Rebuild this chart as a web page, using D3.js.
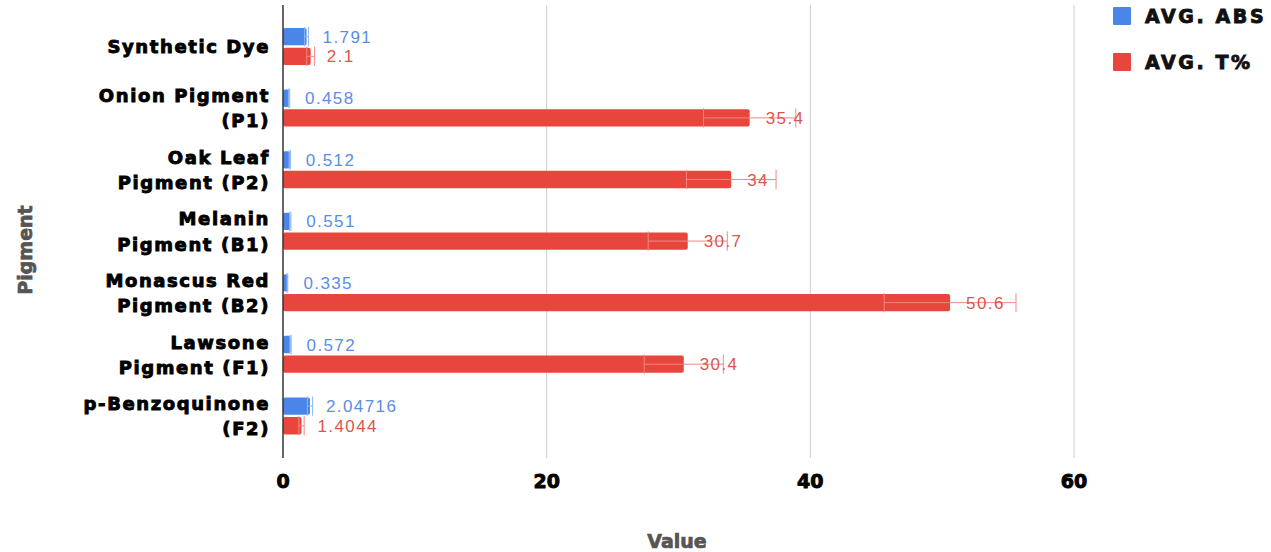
<!DOCTYPE html>
<html>
<head>
<meta charset="utf-8">
<script src="https://cdn.jsdelivr.net/npm/d3@7"></script>
<style>
  body { margin: 0; background: #fff; }
  svg { display: block; }
</style>
</head>
<body>
<svg width="1271" height="552"></svg>
<script>
var categories = ['Synthetic Dye', 'Onion Pigment (P1)', 'Oak Leaf Pigment (P2)', 'Melanin Pigment (B1)',
                  'Monascus Red Pigment (B2)', 'Lawsone Pigment (F1)', 'p-Benzoquinone (F2)'];
var catLines = [['Synthetic Dye'], ['Onion Pigment', '(P1)'], ['Oak Leaf', 'Pigment (P2)'], ['Melanin', 'Pigment (B1)'],
                ['Monascus Red', 'Pigment (B2)'], ['Lawsone', 'Pigment (F1)'], ['p-Benzoquinone', '(F2)']];
var absVals = [1.791, 0.458, 0.512, 0.551, 0.335, 0.572, 2.04716];
var absErr  = [0.15, 0.05, 0.05, 0.05, 0.03, 0.05, 0.2];
var tVals   = [2.1, 35.4, 34, 30.7, 50.6, 30.4, 1.4044];
var tErr    = [0.3, 3.5, 3.4, 3.0, 5.0, 3.0, 0.2];
var xTicks  = [0, 20, 40, 60];
var seriesNames = ['AVG. ABS', 'AVG. T%'];

var svg = d3.select('svg');
var blue = '#4a86e8', red = '#e8453c';
var lblBlue = '#5a8ee6', lblRed = '#d9574c';
var errBlue = '#90b4ee', errRed = '#ee8a82';
var boldFont = 'DejaVu Sans';

var data = categories.map((c, i) => ({
  cat: c, lines: catLines[i],
  series: [
    {key: 'abs', v: absVals[i], e: absErr[i], fill: blue, lc: lblBlue, ec: errBlue},
    {key: 't', v: tVals[i], e: tErr[i], fill: red, lc: lblRed, ec: errRed}
  ]
}));

var xscale = d3.scaleLinear().domain([0, 60]).range([283, 1074]);
var yscale = d3.scaleBand().domain(categories).range([16, 447]);
var sub = d3.scaleBand().domain(['abs', 't']).range([12, 49]).paddingInner(0.12);

// grid
svg.append('g').selectAll('line').data(xTicks.filter(d => d > 0)).enter().append('line')
  .attr('x1', d => xscale(d)).attr('x2', d => xscale(d))
  .attr('y1', 5).attr('y2', 458)
  .attr('stroke', '#cccccc').attr('stroke-width', 1);

// bars
var groups = svg.append('g').selectAll('g').data(data).enter().append('g')
  .attr('transform', d => `translate(0,${yscale(d.cat)})`);

groups.selectAll('rect').data(d => d.series).enter().append('rect')
  .attr('x', xscale(0))
  .attr('y', d => sub(d.key))
  .attr('width', d => xscale(d.v) - xscale(0))
  .attr('height', sub.bandwidth())
  .attr('rx', 2)
  .attr('fill', d => d.fill);

// error bars
var err = groups.selectAll('g.err').data(d => d.series).enter().append('g').attr('class', 'err');
err.append('line')
  .attr('x1', d => xscale(d.v - d.e)).attr('x2', d => xscale(d.v + d.e))
  .attr('y1', d => sub(d.key) + sub.bandwidth() / 2).attr('y2', d => sub(d.key) + sub.bandwidth() / 2)
  .attr('stroke', d => d.ec).attr('stroke-width', 1);
[-1, 1].forEach(s => {
  err.append('line')
    .attr('x1', d => xscale(d.v + s * d.e)).attr('x2', d => xscale(d.v + s * d.e))
    .attr('y1', d => sub(d.key) - 1).attr('y2', d => sub(d.key) + sub.bandwidth() + 1)
    .attr('stroke', d => d.ec).attr('stroke-width', 1);
});

// value labels
groups.selectAll('text.val').data(d => d.series).enter().append('text')
  .attr('class', 'val')
  .attr('x', d => xscale(d.v) + 16)
  .attr('y', d => sub(d.key) + sub.bandwidth() / 2)
  .attr('dy', '0.36em')
  .attr('font-family', 'Liberation Sans, Arial, sans-serif')
  .attr('font-size', 17)
  .attr('letter-spacing', 1.4)
  .attr('fill', d => d.lc)
  .text(d => d.v);

// zero axis line
svg.append('line')
  .attr('x1', xscale(0)).attr('x2', xscale(0)).attr('y1', 5).attr('y2', 458)
  .attr('stroke', '#333').attr('stroke-width', 1.5);

// category labels
var cl = svg.append('g').selectAll('text').data(data).enter().append('text')
  .attr('text-anchor', 'end')
  .attr('font-family', boldFont).attr('font-weight', 'bold').attr('font-size', 18)
  .attr('letter-spacing', 1.6)
  .attr('fill', '#000').attr('stroke', '#000').attr('stroke-width', 0.9)
  .attr('y', d => yscale(d.cat) + yscale.bandwidth() / 2);
cl.selectAll('tspan').data(d => d.lines.map((t, i) => ({t: t, i: i, n: d.lines.length}))).enter().append('tspan')
  .attr('x', 270)
  .attr('dy', d => d.i === 0 ? (0.36 - (d.n - 1) * 0.7) + 'em' : '1.4em')
  .text(d => d.t);

// x tick labels
svg.append('g').selectAll('text').data(xTicks).enter().append('text')
  .attr('x', d => xscale(d)).attr('y', 488)
  .attr('text-anchor', 'middle')
  .attr('font-family', boldFont).attr('font-weight', 'bold').attr('font-size', 19)
  .attr('fill', '#000').attr('stroke', '#000').attr('stroke-width', 0.9)
  .text(d => d);

// axis titles
svg.append('text')
  .attr('x', 677).attr('y', 548).attr('text-anchor', 'middle')
  .attr('font-family', boldFont).attr('font-weight', 'bold').attr('font-size', 19)
  .attr('fill', '#555').attr('stroke', '#555').attr('stroke-width', 0.7)
  .text('Value');
svg.append('text')
  .attr('transform', 'translate(32,250) rotate(-90)').attr('text-anchor', 'middle')
  .attr('font-family', boldFont).attr('font-weight', 'bold').attr('font-size', 19)
  .attr('fill', '#555').attr('stroke', '#555').attr('stroke-width', 0.7)
  .text('Pigment');

// legend
var leg = svg.append('g').selectAll('g').data(seriesNames).enter().append('g')
  .attr('transform', (d, i) => `translate(1113,${7 + i * 46})`);
leg.append('rect').attr('width', 18).attr('height', 18).attr('rx', 1)
  .attr('fill', (d, i) => i === 0 ? blue : red);
leg.append('text')
  .attr('x', 32).attr('y', 9).attr('dy', '0.36em')
  .attr('font-family', boldFont).attr('font-weight', 'bold').attr('font-size', 19)
  .attr('letter-spacing', 2.6)
  .attr('fill', '#111').attr('stroke', '#111').attr('stroke-width', 0.9)
  .text(d => d);
</script>
</body>
</html>
